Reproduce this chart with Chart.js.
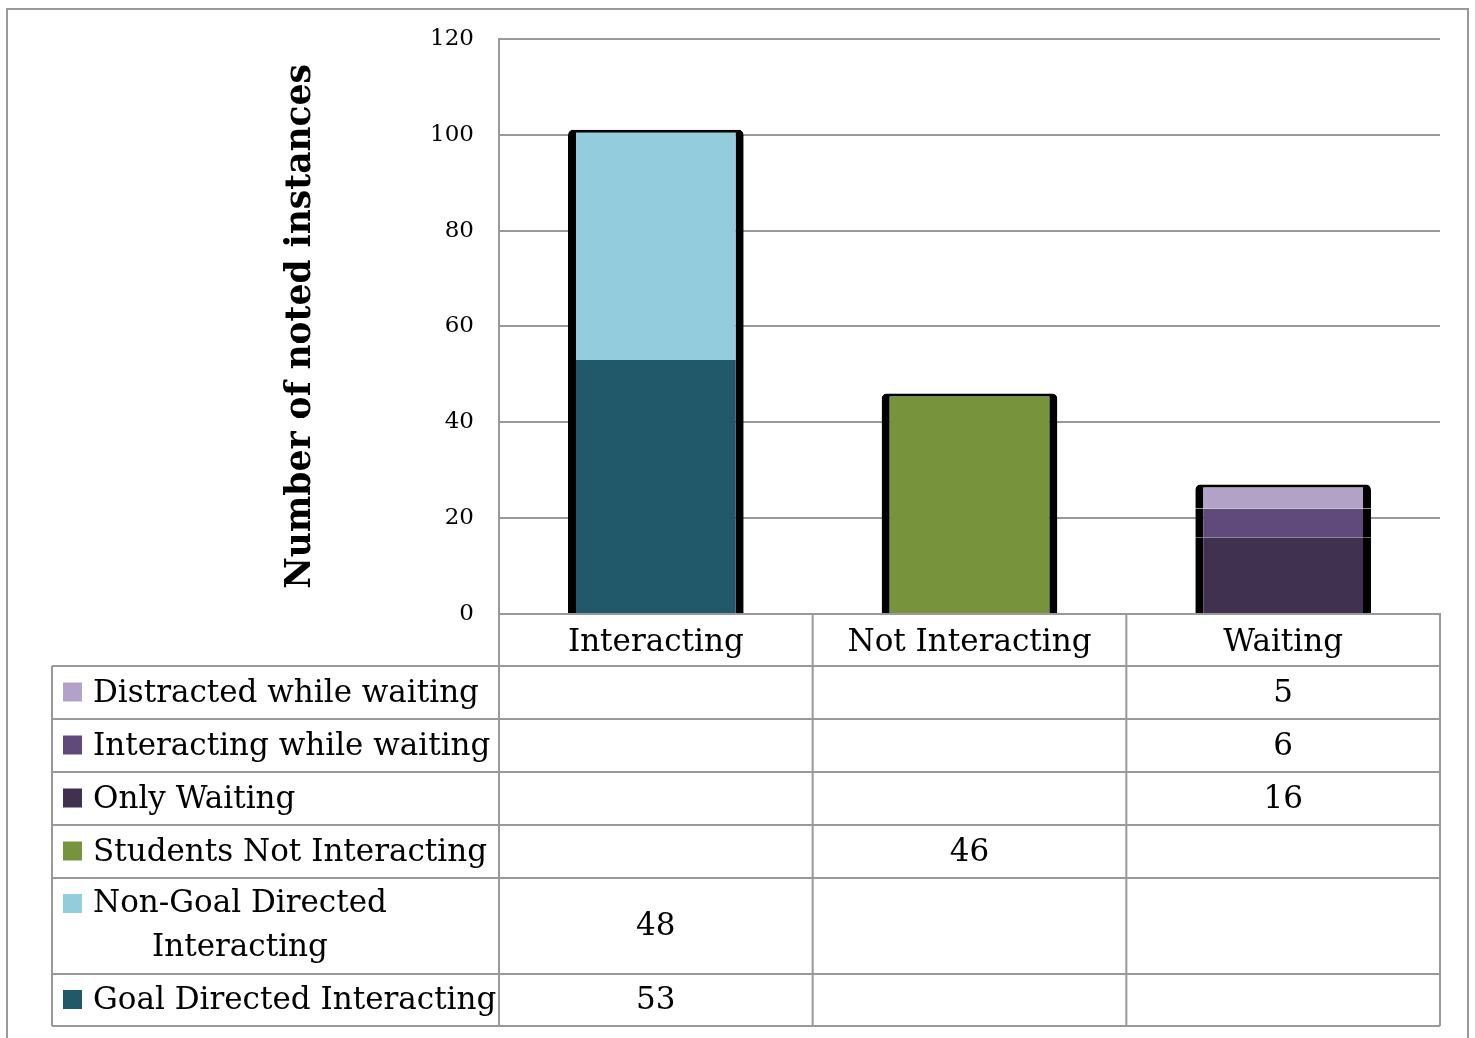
<!DOCTYPE html>
<html>
<head>
<meta charset="utf-8">
<script src="https://cdn.jsdelivr.net/npm/chart.js@4/dist/chart.umd.min.js"></script>
<style>
  html, body { margin: 0; padding: 0; background: #fff; }
  #wrap { width: 1475px; height: 1038px; position: relative; }
</style>
</head>
<body>
<div id="wrap"><canvas id="chart" width="1475" height="1038"></canvas></div>
<script>
var categories = ["Interacting", "Not Interacting", "Waiting"];
var yTicks = [0, 20, 40, 60, 80, 100, 120];

// stacked from bottom up
var goalDirected      = [53, null, null];
var nonGoalDirected   = [48, null, null];
var notInteracting    = [null, 46, null];
var onlyWaiting       = [null, null, 16];
var interactWaiting   = [null, null, 6];
var distractedWaiting = [null, null, 5];

var seriesNames = ["Goal Directed Interacting", "Non-Goal Directed Interacting", "Students Not Interacting",
    "Only Waiting", "Interacting while waiting", "Distracted while waiting"];
var seriesValues = [goalDirected, nonGoalDirected, notInteracting, onlyWaiting, interactWaiting, distractedWaiting];
var seriesColors = ["#22596A", "#93CDDD", "#77933C", "#403151", "#604A7B", "#B3A2C7"];
var isTopSegment = [false, true, true, false, false, true];

var serif = "'DejaVu Serif', 'Liberation Serif', serif";
var gridGray = "#999999";

// table row heights below the axis labels row (top row = last series)
var rowHeights = [53, 53, 53, 53, 96, 52];

var tablePlugin = {
    id: 'dataTable',
    beforeDraw: function(chart){
        var ctx = chart.ctx;
        ctx.save();
        ctx.strokeStyle = gridGray;
        ctx.lineWidth = 2;
        ctx.strokeRect(7, 9, 1461, 1040);
        ctx.restore();
    },
    afterDraw: function(chart){
        var ctx = chart.ctx;
        var x = chart.scales.x;
        var area = chart.chartArea;
        var colW = (x.right - x.left) / categories.length;
        var tableLeft = 52;
        var headerBottom = area.bottom + 52;
        var bottom = headerBottom;
        rowHeights.forEach(function(h){ bottom += h; });

        ctx.save();
        ctx.strokeStyle = gridGray;
        ctx.lineWidth = 2;
        // vertical lines
        ctx.beginPath();
        for (var c = 0; c <= categories.length; c++) {
            var lx = x.left + c * colW;
            ctx.moveTo(lx, c == 0 ? area.top : area.bottom);
            ctx.lineTo(lx, bottom);
        }
        ctx.moveTo(tableLeft, headerBottom);
        ctx.lineTo(tableLeft, bottom);
        // horizontal lines
        var yy = headerBottom;
        ctx.moveTo(tableLeft, yy); ctx.lineTo(x.right, yy);
        rowHeights.forEach(function(h){
            yy += h;
            ctx.moveTo(tableLeft, yy); ctx.lineTo(x.right, yy);
        });
        ctx.stroke();

        // rows
        ctx.font = "31px " + serif;
        ctx.fillStyle = "#000";
        ctx.textBaseline = "middle";
        var top = headerBottom;
        for (var r = 0; r < rowHeights.length; r++) {
            var s = seriesValues.length - 1 - r;
            var h = rowHeights[r];
            var name = seriesNames[s];
            ctx.fillStyle = seriesColors[s];
            if (name == "Non-Goal Directed Interacting") {
                ctx.fillRect(63, top + 16, 19, 19);
                ctx.fillStyle = "#000";
                ctx.textAlign = "left";
                ctx.fillText("Non-Goal Directed", 93, top + 26);
                ctx.fillText("Interacting", 152, top + 70);
            } else {
                ctx.fillRect(63, top + h / 2 - 10, 19, 19);
                ctx.fillStyle = "#000";
                ctx.textAlign = "left";
                ctx.fillText(name, 93, top + h / 2 + 1);
            }
            ctx.textAlign = "center";
            seriesValues[s].forEach(function(v, i){
                if (v != null) ctx.fillText(String(v), x.getPixelForValue(i), top + h / 2 + 1);
            });
            top += h;
        }
        ctx.restore();
    }
};

var datasets = seriesNames.map(function(name, i){
    var r = isTopSegment[i] ? 5 : 0;
    return {
        label: name,
        data: seriesValues[i],
        backgroundColor: seriesColors[i],
        borderColor: "#000",
        borderWidth: { left: 8, right: 8, top: isTopSegment[i] ? 3 : 0, bottom: 0 },
        borderRadius: { topLeft: r, topRight: r, bottomLeft: 0, bottomRight: 0 },
        borderSkipped: false,
        categoryPercentage: 1.0,
        barPercentage: 0.56
    };
});

new Chart(document.getElementById("chart").getContext("2d"), {
    type: 'bar',
    data: { labels: categories, datasets: datasets },
    options: {
        responsive: false,
        animation: false,
        layout: { padding: { left: 280, right: 35, top: 38, bottom: 0 } },
        plugins: { legend: { display: false }, tooltip: { enabled: false } },
        scales: {
            x: {
                stacked: true,
                grid: { display: false, drawTicks: false },
                border: { display: true, color: gridGray, width: 2 },
                ticks: { color: "#000", font: { family: serif, size: 31 }, padding: 10 },
                afterFit: function(s){ s.height = 1038 - 614; }
            },
            y: {
                stacked: true,
                min: 0, max: 120,
                afterBuildTicks: function(s){ s.ticks = yTicks.map(function(v){ return { value: v }; }); },
                grid: { color: gridGray, lineWidth: 2, drawTicks: false },
                border: { display: true, color: gridGray, width: 2 },
                ticks: { color: "#000", font: { family: serif, size: 23 }, padding: 25 },
                title: { display: true, text: "Number of noted instances", color: "#000",
                    font: { family: serif, size: 34.5, weight: 'bold' }, padding: 0 },
                afterFit: function(s){ s.width = 499 - 280; }
            }
        }
    },
    plugins: [tablePlugin]
});
</script>
</body>
</html>
